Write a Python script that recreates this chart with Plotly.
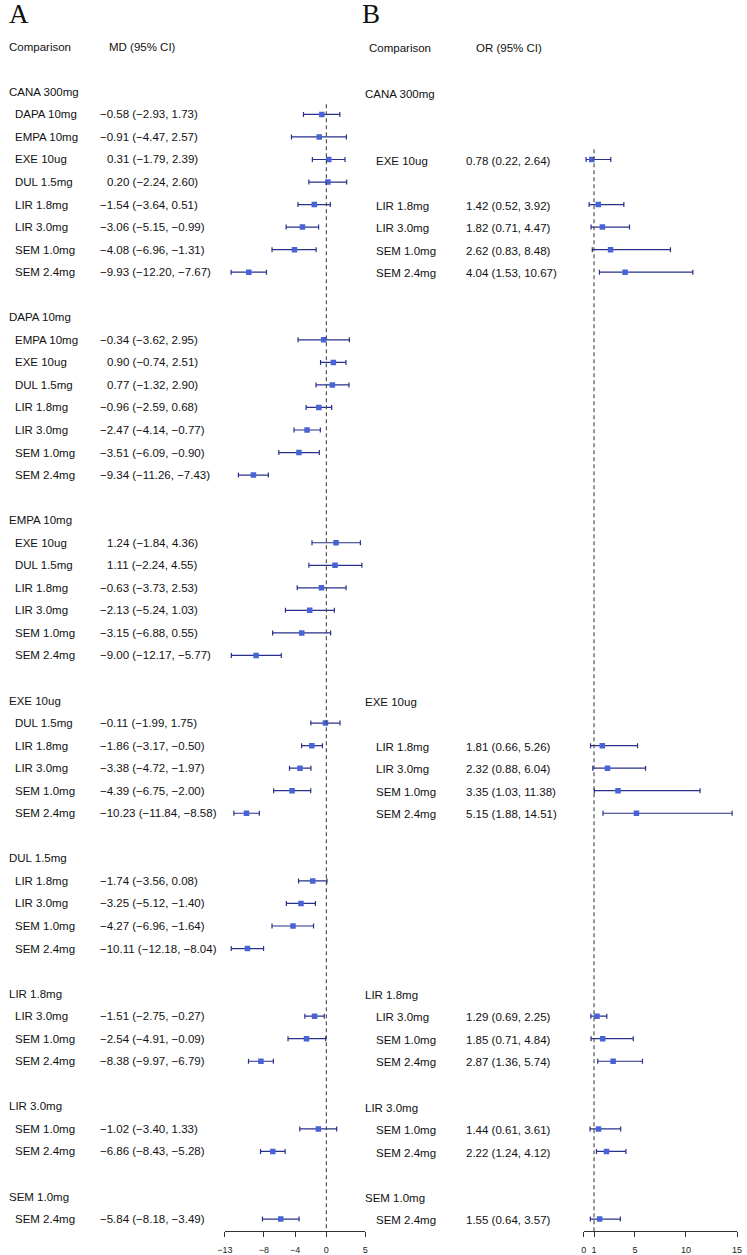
import plotly.graph_objects as go

# ---------------- Data: Panel A (mean difference) ----------------
a_group = (["CANA 300mg"] * 8 + ["DAPA 10mg"] * 7 + ["EMPA 10mg"] * 6 +
           ["EXE 10ug"] * 5 + ["DUL 1.5mg"] * 4 + ["LIR 1.8mg"] * 3 +
           ["LIR 3.0mg"] * 2 + ["SEM 1.0mg"] * 1)
a_comp = ["DAPA 10mg", "EMPA 10mg", "EXE 10ug", "DUL 1.5mg", "LIR 1.8mg", "LIR 3.0mg", "SEM 1.0mg", "SEM 2.4mg",
          "EMPA 10mg", "EXE 10ug", "DUL 1.5mg", "LIR 1.8mg", "LIR 3.0mg", "SEM 1.0mg", "SEM 2.4mg",
          "EXE 10ug", "DUL 1.5mg", "LIR 1.8mg", "LIR 3.0mg", "SEM 1.0mg", "SEM 2.4mg",
          "DUL 1.5mg", "LIR 1.8mg", "LIR 3.0mg", "SEM 1.0mg", "SEM 2.4mg",
          "LIR 1.8mg", "LIR 3.0mg", "SEM 1.0mg", "SEM 2.4mg",
          "LIR 3.0mg", "SEM 1.0mg", "SEM 2.4mg",
          "SEM 1.0mg", "SEM 2.4mg",
          "SEM 2.4mg"]
a_md = [-0.58, -0.91, 0.31, 0.20, -1.54, -3.06, -4.08, -9.93,
        -0.34, 0.90, 0.77, -0.96, -2.47, -3.51, -9.34,
        1.24, 1.11, -0.63, -2.13, -3.15, -9.00,
        -0.11, -1.86, -3.38, -4.39, -10.23,
        -1.74, -3.25, -4.27, -10.11,
        -1.51, -2.54, -8.38,
        -1.02, -6.86,
        -5.84]
a_lo = [-2.93, -4.47, -1.79, -2.24, -3.64, -5.15, -6.96, -12.20,
        -3.62, -0.74, -1.32, -2.59, -4.14, -6.09, -11.26,
        -1.84, -2.24, -3.73, -5.24, -6.88, -12.17,
        -1.99, -3.17, -4.72, -6.75, -11.84,
        -3.56, -5.12, -6.96, -12.18,
        -2.75, -4.91, -9.97,
        -3.40, -8.43,
        -8.18]
a_hi = [1.73, 2.57, 2.39, 2.60, 0.51, -0.99, -1.31, -7.67,
        2.95, 2.51, 2.90, 0.68, -0.77, -0.90, -7.43,
        4.36, 4.55, 2.53, 1.03, 0.55, -5.77,
        1.75, -0.50, -1.97, -2.00, -8.58,
        0.08, -1.40, -1.64, -8.04,
        -0.27, -0.09, -6.79,
        1.33, -5.28,
        -3.49]
a_ticks = [-13, -8, -4, 0, 5]

# ---------------- Data: Panel B (odds ratio) ----------------
b_groups = ["CANA 300mg", "EXE 10ug", "LIR 1.8mg", "LIR 3.0mg", "SEM 1.0mg"]
b_group = (["CANA 300mg"] * 5 + ["EXE 10ug"] * 4 + ["LIR 1.8mg"] * 3 +
           ["LIR 3.0mg"] * 2 + ["SEM 1.0mg"] * 1)
b_comp = ["EXE 10ug", "LIR 1.8mg", "LIR 3.0mg", "SEM 1.0mg", "SEM 2.4mg",
          "LIR 1.8mg", "LIR 3.0mg", "SEM 1.0mg", "SEM 2.4mg",
          "LIR 3.0mg", "SEM 1.0mg", "SEM 2.4mg",
          "SEM 1.0mg", "SEM 2.4mg",
          "SEM 2.4mg"]
b_or = [0.78, 1.42, 1.82, 2.62, 4.04,
        1.81, 2.32, 3.35, 5.15,
        1.29, 1.85, 2.87,
        1.44, 2.22,
        1.55]
b_lo = [0.22, 0.52, 0.71, 0.83, 1.53,
        0.66, 0.88, 1.03, 1.88,
        0.69, 0.71, 1.36,
        0.61, 1.24,
        0.64]
b_hi = [2.64, 3.92, 4.47, 8.48, 10.67,
        5.26, 6.04, 11.38, 14.51,
        2.25, 4.84, 5.74,
        3.61, 4.12,
        3.57]
b_ticks = [0, 1, 5, 10, 15]

# ---------------- Row layout ----------------
W, H = 747, 1255
ROW0_PX = 92.0
ROW_PX = 22.58
AXIS_PX = 1233.0

group_row = {}
pair_row = {}
r = 0
prev = None
for g, c in zip(a_group, a_comp):
    if g != prev:
        if prev is not None:
            r += 1  # blank line between groups
        group_row[g] = r
        r += 1
        prev = g
    pair_row[(g, c)] = r
    r += 1

a_rows = [pair_row[(g, c)] for g, c in zip(a_group, a_comp)]
b_rows = [pair_row[(g, c)] for g, c in zip(b_group, b_comp)]

y_top = -ROW0_PX / ROW_PX
y_bot = y_top + AXIS_PX / ROW_PX


def fmt(v):
    return f"{v:.2f}".replace("-", "\u2212")


def px(x):
    return x / W


FONT = "Liberation Sans, Arial, sans-serif"
TXT = "#111111"
FS = 11.5
MARK = "#4763D6"
LINE = "#28308A"

fig = go.Figure()

fig.add_trace(go.Scatter(
    x=a_md, y=a_rows, mode="markers", xaxis="x", yaxis="y",
    marker=dict(symbol="square", size=5.5, color=MARK),
    error_x=dict(type="data", symmetric=False,
                 array=[h - m for h, m in zip(a_hi, a_md)],
                 arrayminus=[m - l for m, l in zip(a_md, a_lo)],
                 color=LINE, thickness=1.2, width=2.5),
    showlegend=False, hoverinfo="skip"))

fig.add_trace(go.Scatter(
    x=b_or, y=b_rows, mode="markers", xaxis="x2", yaxis="y",
    marker=dict(symbol="square", size=5.5, color=MARK),
    error_x=dict(type="data", symmetric=False,
                 array=[h - m for h, m in zip(b_hi, b_or)],
                 arrayminus=[m - l for m, l in zip(b_or, b_lo)],
                 color=LINE, thickness=1.2, width=2.5),
    showlegend=False, hoverinfo="skip"))

ann = []


def add_text(xp, row, text, size=FS, xshift=0):
    ann.append(dict(x=px(xp), y=row, xref="paper", yref="y", text=text,
                    showarrow=False, xanchor="left", yanchor="middle",
                    xshift=xshift, font=dict(family=FONT, size=size, color=TXT)))


# Panel A text
add_text(-1, -2, "Comparison")
add_text(101, -2, "MD (95% CI)")
for g, rr in group_row.items():
    add_text(-1, rr, g)
for c, m, l, h, rr in zip(a_comp, a_md, a_lo, a_hi, a_rows):
    add_text(5, rr, c)
    add_text(92, rr, f"{fmt(m)} ({fmt(l)}, {fmt(h)})", xshift=0 if m < 0 else 7)

# Panel B text
add_text(365, -1.95, "Comparison")
add_text(474.5, -1.95, "OR (95% CI)")
for g in b_groups:
    add_text(361.5, group_row[g] + 0.08, g)
for c, o, l, h, rr in zip(b_comp, b_or, b_lo, b_hi, b_rows):
    add_text(372, rr + 0.05, c)
    add_text(464, rr + 0.05, f"{fmt(o)} ({fmt(l)}, {fmt(h)})")

# Panel letters
for letter, xp in [("A", -1), ("B", 358)]:
    ann.append(dict(x=px(xp), y=1 - 14.5 / H, xref="paper", yref="paper", text=letter,
                    showarrow=False, xanchor="left", yanchor="middle",
                    font=dict(family="Liberation Serif, Times New Roman, serif", size=27, color=TXT)))

shapes = [
    dict(type="line", xref="x", yref="y", x0=0, x1=0, y0=min(a_rows) - 0.45, y1=y_bot,
         line=dict(color="#444444", width=1.1, dash="4px,3px")),
    dict(type="line", xref="x2", yref="y", x0=1, x1=1, y0=min(b_rows) - 0.45, y1=y_bot,
         line=dict(color="#444444", width=1.1, dash="4px,3px")),
]

axis_common = dict(showgrid=False, zeroline=False, showline=True, linecolor="#333333",
                   linewidth=1, ticks="outside", ticklen=5, tickwidth=1, tickcolor="#333333",
                   tickfont=dict(family=FONT, size=9, color="#222222"),
                   ticklabelstandoff=5, fixedrange=True)

fig.update_layout(
    width=W, height=H,
    margin=dict(l=0, r=0, t=0, b=0),
    paper_bgcolor="white", plot_bgcolor="rgba(0,0,0,0)",
    xaxis=dict(domain=[220.7 / W, 363.7 / W], range=[-13, 5], tickmode="array",
               tickvals=a_ticks, ticktext=[str(t).replace("-", "\u2212") for t in a_ticks],
               anchor="y", **axis_common),
    xaxis2=dict(domain=[586 / W, 742 / W], range=[0, 15], tickmode="array",
                tickvals=b_ticks, ticktext=[str(t) for t in b_ticks], anchor="y", **axis_common),
    yaxis=dict(domain=[(H - AXIS_PX) / H, 1], range=[y_bot, y_top], visible=False, fixedrange=True),
    annotations=ann, shapes=shapes,
)

fig.write_html("out.html", config={"displayModeBar": False},
               post_script="document.body.style.margin='0';document.body.style.overflow='hidden';")
